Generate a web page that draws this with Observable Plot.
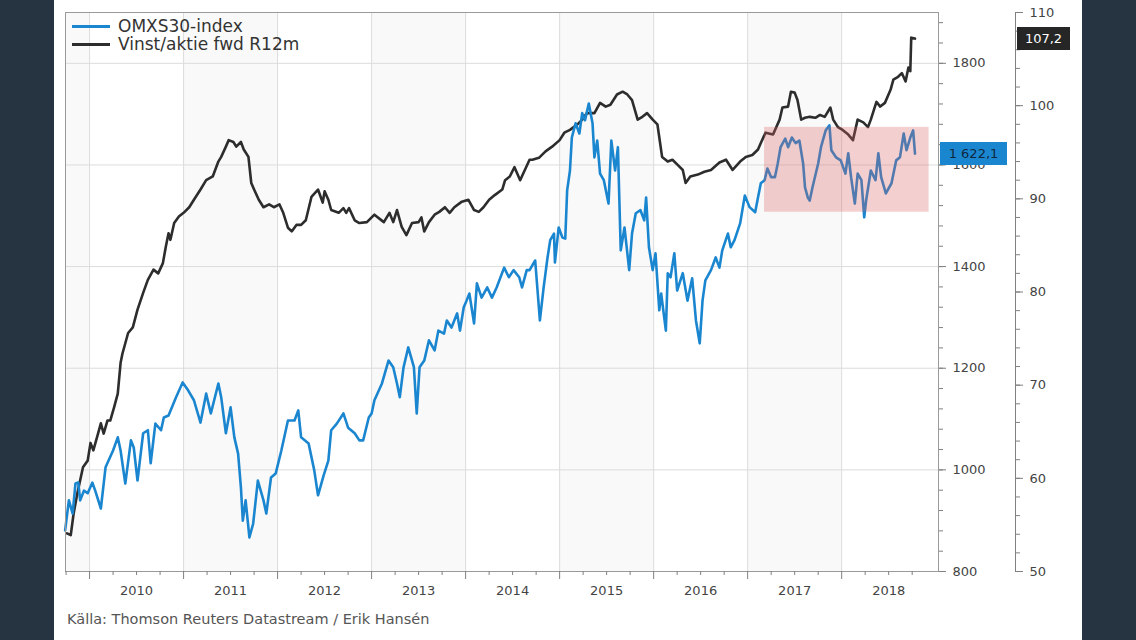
<!DOCTYPE html>
<html><head><meta charset="utf-8">
<script src="https://cdn.jsdelivr.net/npm/d3@7"></script>
<script src="https://cdn.jsdelivr.net/npm/@observablehq/plot@0.6"></script>
<style>
body{margin:0;background:#263340;width:1136px;height:640px;overflow:hidden;font-family:"DejaVu Sans",Verdana,sans-serif}
#panel{position:absolute;left:54px;top:0;width:1028px;height:640px;background:#fff}
#panel svg{position:absolute;left:0;top:0}
.leg{position:absolute;left:18px;font-size:17px;color:#333;white-space:nowrap}
.leg span{display:inline-block;width:38px;height:3px;vertical-align:middle;margin-right:8px;position:relative;top:-1px}
.vlab{position:absolute;font-size:13px;text-align:center;line-height:23px;height:23px}
#caption{position:absolute;left:13px;top:611px;font-size:14.5px;color:#555;white-space:nowrap}
</style></head><body>
<div id="panel"></div>
<script>
// OMXS30-index (left axis), decimal year
const omxDates = [2009.74,2009.78,2009.82,2009.85,2009.88,2009.90,2009.94,2009.98,2010.03,2010.06,
2010.12,2010.17,2010.25,2010.30,2010.33,2010.38,2010.44,2010.47,2010.51,2010.57,
2010.62,2010.65,2010.70,2010.76,2010.79,2010.84,2010.92,2010.99,2011.05,2011.11,
2011.18,2011.24,2011.29,2011.37,2011.40,2011.45,2011.50,2011.54,2011.58,2011.61,
2011.63,2011.66,2011.70,2011.74,2011.79,2011.85,2011.88,2011.93,2011.98,2012.04,
2012.11,2012.18,2012.22,2012.25,2012.33,2012.39,2012.43,2012.49,2012.54,2012.57,
2012.63,2012.70,2012.75,2012.82,2012.87,2012.91,2012.97,2013.00,2013.03,2013.11,
2013.18,2013.23,2013.27,2013.30,2013.34,2013.39,2013.45,2013.48,2013.51,2013.56,
2013.61,2013.67,2013.71,2013.77,2013.80,2013.85,2013.91,2013.94,2013.98,2014.01,
2014.04,2014.09,2014.12,2014.17,2014.23,2014.28,2014.33,2014.41,2014.46,2014.51,
2014.57,2014.60,2014.65,2014.68,2014.74,2014.79,2014.83,2014.87,2014.90,2014.94,
2014.95,2014.99,2015.03,2015.06,2015.08,2015.11,2015.13,2015.17,2015.21,2015.24,
2015.27,2015.31,2015.35,2015.37,2015.40,2015.43,2015.47,2015.52,2015.55,2015.59,
2015.62,2015.65,2015.69,2015.74,2015.77,2015.81,2015.86,2015.90,2015.92,2015.95,
2015.99,2016.02,2016.06,2016.08,2016.13,2016.15,2016.18,2016.22,2016.25,2016.31,
2016.36,2016.41,2016.45,2016.49,2016.52,2016.55,2016.61,2016.66,2016.70,2016.73,
2016.79,2016.82,2016.86,2016.92,2016.97,2017.02,2017.08,2017.11,2017.14,2017.18,
2017.21,2017.25,2017.29,2017.32,2017.35,2017.40,2017.43,2017.47,2017.51,2017.55,
2017.59,2017.61,2017.64,2017.66,2017.69,2017.75,2017.78,2017.83,2017.87,2017.89,
2017.94,2017.99,2018.04,2018.07,2018.10,2018.14,2018.17,2018.21,2018.24,2018.26,
2018.31,2018.36,2018.39,2018.42,2018.47,2018.53,2018.58,2018.62,2018.66,2018.69,
2018.73,2018.76,2018.78];
const omxValues = [881,940,914,973,975,940,959,954,975,959,
924,1005,1038,1064,1038,973,1058,1044,979,1072,
1078,1013,1091,1078,1103,1107,1143,1172,1156,1137,
1093,1150,1111,1170,1143,1072,1123,1064,1032,965,
900,940,867,894,979,940,914,985,993,1038,
1097,1097,1117,1064,1052,999,950,989,1018,1078,
1091,1111,1083,1072,1058,1058,1103,1111,1137,1170,
1215,1202,1170,1143,1202,1241,1202,1111,1202,1215,
1255,1235,1274,1268,1294,1280,1308,1274,1320,1333,
1347,1288,1367,1339,1359,1339,1359,1398,1379,1393,
1379,1359,1393,1393,1412,1294,1359,1416,1452,1465,
1408,1477,1457,1455,1550,1589,1654,1682,1662,1702,
1688,1721,1682,1615,1648,1583,1570,1524,1648,1589,
1635,1432,1477,1393,1465,1505,1511,1491,1536,1438,
1393,1426,1314,1347,1274,1387,1379,1426,1353,1387,
1333,1377,1294,1249,1333,1373,1393,1418,1398,1432,
1465,1438,1452,1485,1540,1517,1507,1536,1564,1570,
1593,1576,1576,1603,1635,1652,1635,1654,1643,1648,
1603,1556,1536,1530,1556,1603,1635,1668,1678,1629,
1615,1609,1583,1623,1576,1524,1583,1570,1497,1530,
1589,1570,1623,1576,1544,1564,1609,1615,1662,1629,
1654,1668,1622.1];

// Vinst/aktie fwd R12m (right axis)
const epsDates = [2009.76,2009.80,2009.83,2009.87,2009.93,2009.98,2010.01,2010.04,2010.09,2010.12,
2010.15,2010.19,2010.22,2010.26,2010.30,2010.33,2010.35,2010.41,2010.46,2010.51,
2010.57,2010.62,2010.68,2010.73,2010.78,2010.81,2010.84,2010.86,2010.90,2010.95,
2011.00,2011.06,2011.11,2011.18,2011.24,2011.31,2011.37,2011.40,2011.45,2011.48,
2011.53,2011.56,2011.61,2011.64,2011.69,2011.72,2011.75,2011.80,2011.85,2011.91,
2011.96,2012.02,2012.06,2012.11,2012.15,2012.20,2012.25,2012.30,2012.36,2012.43,
2012.48,2012.50,2012.54,2012.57,2012.65,2012.70,2012.73,2012.76,2012.82,2012.87,
2012.95,2013.03,2013.13,2013.19,2013.23,2013.27,2013.32,2013.37,2013.43,2013.50,
2013.53,2013.56,2013.61,2013.67,2013.72,2013.78,2013.83,2013.88,2013.96,2014.03,
2014.09,2014.14,2014.19,2014.25,2014.31,2014.39,2014.42,2014.47,2014.52,2014.58,
2014.63,2014.68,2014.71,2014.78,2014.85,2014.92,2015.00,2015.05,2015.11,2015.19,
2015.24,2015.29,2015.37,2015.43,2015.49,2015.54,2015.61,2015.67,2015.72,2015.77,
2015.83,2015.88,2015.93,2015.99,2016.04,2016.09,2016.15,2016.20,2016.25,2016.31,
2016.34,2016.39,2016.47,2016.54,2016.61,2016.70,2016.77,2016.84,2016.92,2016.98,
2017.05,2017.11,2017.14,2017.19,2017.27,2017.34,2017.37,2017.43,2017.46,2017.50,
2017.53,2017.57,2017.61,2017.66,2017.72,2017.77,2017.82,2017.88,2017.91,2017.96,
2018.01,2018.07,2018.12,2018.17,2018.23,2018.28,2018.31,2018.37,2018.41,2018.46,
2018.52,2018.55,2018.60,2018.64,2018.68,2018.71,2018.73,2018.74,2018.78];
const epsValues = [54.1,53.9,56.2,58.4,61.2,61.9,63.8,63.0,64.8,65.9,
64.8,66.2,66.2,67.6,69.1,72.4,73.4,75.6,76.2,78.1,
79.9,81.3,82.4,82.0,83.1,84.8,86.3,85.6,87.4,88.1,
88.5,89.1,89.9,91.0,92.0,92.4,94.0,94.5,95.6,96.3,
96.1,95.6,96.1,95.3,94.5,91.7,91.0,89.9,89.1,89.4,
89.1,89.4,88.5,86.9,86.5,87.2,87.2,87.7,90.2,91.0,
89.6,90.8,89.9,88.8,88.5,89.0,88.5,89.0,87.7,87.4,
87.5,88.3,87.5,88.5,87.5,88.8,87.0,86.1,87.4,87.5,
88.0,86.5,87.5,88.3,88.6,89.1,88.5,89.1,89.7,89.9,
88.8,88.6,89.1,89.9,90.4,91.0,92.0,92.4,93.4,92.0,
93.1,94.2,94.2,94.4,95.1,95.6,96.3,97.1,97.4,98.0,
98.5,99.2,99.2,100.3,99.9,100.1,101.2,101.5,101.2,100.6,
98.5,98.8,99.2,98.5,98.0,94.5,94.0,94.2,93.7,93.1,
91.7,92.4,92.6,92.9,93.1,93.9,94.2,93.1,94.0,94.5,
94.7,95.3,96.0,97.1,96.9,98.5,99.8,99.9,101.5,101.4,
100.6,98.5,98.7,98.8,98.7,99.0,98.8,99.8,98.5,97.7,
97.4,96.9,96.3,98.5,98.2,97.7,98.5,100.4,99.9,100.3,
101.7,102.8,103.1,103.5,102.6,104.1,103.7,107.3,107.2];

// Highlighted range (pink box)
const boxStart = [2017.18], boxEnd = [2018.93], boxLow = [1507], boxHigh = [1674];

// Axis ticks
const xDomain = [2009.744, 2019.03];
const yearTicks = [2010,2011,2012,2013,2014,2015,2016,2017,2018];
const yearLabels = ["2010","2011","2012","2013","2014","2015","2016","2017","2018"];
const shadedYears = [2009,2011,2013,2015,2017];
const leftDomain = [800, 1900];
const leftMajor = [800,1000,1200,1400,1600,1800];
const rightDomain = [50, 110];
const rightMajor = [50,60,70,80,90,100,110];
const seriesNames = ["OMXS30-index", "Vinst/aktie fwd R12m"];
const seriesColors = ["#1b86d0", "#2d2d2d"];

// map right-axis values onto the left scale (shared pixel range)
const toLeft = v => leftDomain[0] + (v - rightDomain[0]) * (leftDomain[1] - leftDomain[0]) / (rightDomain[1] - rightDomain[0]);
const fromLeft = d => rightDomain[0] + (d - leftDomain[0]) * (rightDomain[1] - rightDomain[0]) / (leftDomain[1] - leftDomain[0]);

const omx = omxDates.map((d, i) => ({date: d, value: omxValues[i]}));
const eps = epsDates.map((d, i) => ({date: d, value: toLeft(epsValues[i])}));
const box = boxStart.map((s, i) => ({x1: s, x2: boxEnd[i], y1: boxLow[i], y2: boxHigh[i]}));
const quarterTicks = d3.range(2009.75, 2019, 0.25).filter(q => q > xDomain[0] && !Number.isInteger(q));
const leftMinor = d3.range(leftDomain[0], leftDomain[1] + 1, 40);
const rightMinor = d3.range(rightDomain[0], rightDomain[1] + 1, 2).map(toLeft);

const axisColor = "#808080";
const OFF = 77;

const plot = Plot.plot({
  width: 1028, height: 600,
  marginLeft: 11, marginRight: 144, marginTop: 12, marginBottom: 29,
  x: {domain: xDomain},
  y: {domain: leftDomain},
  style: {fontFamily: "DejaVu Sans, Verdana, sans-serif", fontSize: "13px", color: "#444", background: "transparent"},
  marks: [
    Plot.rect(shadedYears, {x1: d => d, x2: d => d + 1, fill: "#f9f9f9", clip: true}),
    Plot.gridY(leftMajor.filter(v => v > leftDomain[0]), {stroke: "#dcdcdc", strokeOpacity: 1}),
    Plot.gridX(yearTicks, {stroke: "#dcdcdc", strokeOpacity: 1}),
    Plot.lineY(eps, {x: "date", y: "value", stroke: seriesColors[1], strokeWidth: 2.6}),
    Plot.lineY(omx, {x: "date", y: "value", stroke: seriesColors[0], strokeWidth: 2.6}),
    Plot.rect(box, {x1: "x1", x2: "x2", y1: "y1", y2: "y2", fill: "rgb(215,95,95)", fillOpacity: 0.3}),
    Plot.frame({stroke: "#9a9a9a"}),
    Plot.axisX(yearTicks, {tickSize: 8, tickFormat: () => "", stroke: axisColor}),
    Plot.axisX(quarterTicks, {tickSize: 4, tickFormat: () => "", stroke: axisColor}),
    Plot.axisX(yearTicks.map(y => y + 0.5), {tickSize: 0, tickPadding: 14, tickFormat: (d, i) => yearLabels[i], fill: "#444", fontSize: 13}),
    Plot.axisY(leftMajor, {anchor: "right", tickSize: 7, tickPadding: 7, tickFormat: d => String(d), stroke: axisColor, fill: "#444", fontSize: 13}),
    Plot.axisY(leftMinor, {anchor: "right", tickSize: 4, tickFormat: () => "", stroke: axisColor}),
    Plot.axisY(rightMajor.map(toLeft), {anchor: "right", dx: OFF, tickSize: 7, tickPadding: 7, tickFormat: d => String(Math.round(fromLeft(d))), stroke: axisColor, fill: "#444", fontSize: 13}),
    Plot.axisY(rightMinor, {anchor: "right", dx: OFF, tickSize: 4, tickFormat: () => "", stroke: axisColor}),
    Plot.frame({anchor: "right", dx: OFF, stroke: axisColor})
  ]
});
const panel = document.getElementById("panel");
panel.appendChild(plot);

// legend
seriesNames.forEach((name, i) => {
  const el = document.createElement("div");
  el.className = "leg";
  el.style.top = (16 + i * 18) + "px";
  el.innerHTML = `<span style="background:${seriesColors[i]}"></span>${name}`;
  panel.appendChild(el);
});

// last-value labels
const sv = d3.formatLocale({decimal: ",", thousands: " ", grouping: [3], currency: ["", ""]});
const yScale = plot.scale("y");
function valueLabel(text, value, left, width, bg, fg) {
  const el = document.createElement("div");
  el.className = "vlab";
  el.textContent = text;
  el.style.left = left + "px";
  el.style.width = width + "px";
  el.style.top = (yScale.apply(value) - 11.5) + "px";
  el.style.background = bg;
  el.style.color = fg;
  panel.appendChild(el);
}
const lastOmx = omxValues[omxValues.length - 1];
const lastEps = epsValues[epsValues.length - 1];
valueLabel(sv.format(",.1f")(lastOmx), lastOmx, 886, 67, "#1b86d0", "#10283e");
valueLabel(sv.format(",.1f")(lastEps), toLeft(lastEps), 963, 53, "#262626", "#fff");

const cap = document.createElement("div");
cap.id = "caption";
cap.textContent = "Källa: Thomson Reuters Datastream / Erik Hansén";
panel.appendChild(cap);
</script>
</body></html>
